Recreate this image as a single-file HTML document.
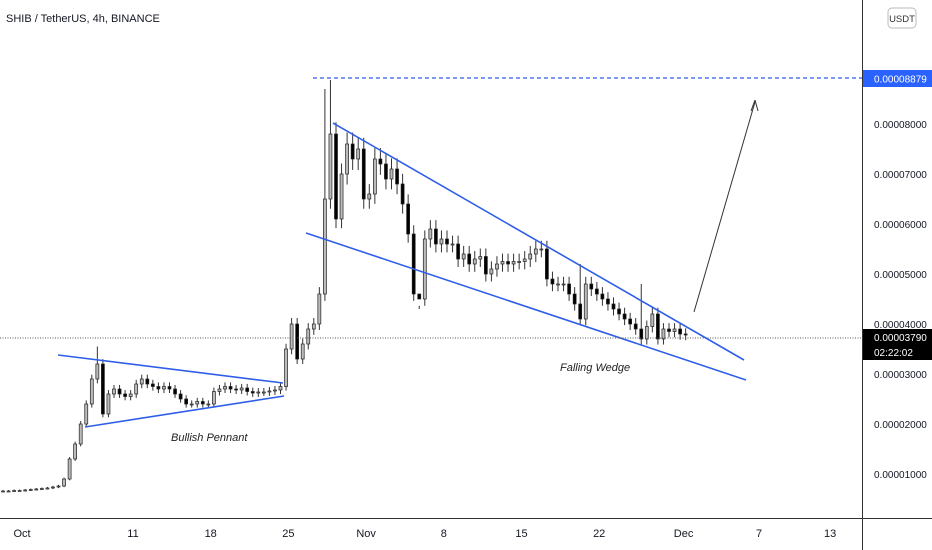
<!DOCTYPE html>
<html><head><meta charset="utf-8">
<style>
html,body{margin:0;padding:0;background:#fff;}
svg{display:block;font-family:"Liberation Sans",sans-serif;}
</style></head>
<body>
<svg id="chart" width="932" height="550" viewBox="0 0 932 550" xmlns="http://www.w3.org/2000/svg">
<rect width="932" height="550" fill="#fff"/>
<g id="candles"></g>
<line x1="58" y1="355" x2="283" y2="383" stroke="#2f5fe8" stroke-width="1.6"/>
<line x1="85" y1="427" x2="284" y2="396" stroke="#2f5fe8" stroke-width="1.6"/>
<line x1="333" y1="123" x2="744" y2="360" stroke="#2f5fe8" stroke-width="1.6"/>
<line x1="306" y1="233" x2="746" y2="380" stroke="#2f5fe8" stroke-width="1.6"/>
<line x1="313" y1="78" x2="862" y2="78" stroke="#2f5fe8" stroke-width="1.2" stroke-dasharray="4,3"/>
<line x1="0" y1="338" x2="862" y2="338" stroke="#555" stroke-width="1" stroke-dasharray="1,1.5"/>
<g>
<line x1="694" y1="312" x2="755" y2="102" stroke="#333" stroke-width="1"/>
<path d="M755 100 L751 111 M755 100 L758 111" stroke="#333" stroke-width="1" fill="none"/>
</g>
<text x="171" y="441" font-size="11" font-style="italic" fill="#222">Bullish Pennant</text>
<text x="560" y="371" font-size="11" font-style="italic" fill="#222">Falling Wedge</text>
<text x="6" y="22" font-size="11" fill="#131722">SHIB / TetherUS, 4h, BINANCE</text>
<line x1="862.5" y1="0" x2="862.5" y2="550" stroke="#333" stroke-width="1"/>
<line x1="0" y1="518.5" x2="932" y2="518.5" stroke="#333" stroke-width="1"/>
<g id="yticks"></g>
<g id="xticks"></g>
<g>
<rect x="863" y="70" width="69" height="17" fill="#2962ff"/>
<text x="874" y="82.5" font-size="10" fill="#fff">0.00008879</text>
</g>
<g>
<rect x="863" y="329" width="69" height="31" fill="#000"/>
<text x="874" y="341" font-size="10" fill="#fff">0.00003790</text>
<text x="874" y="356" font-size="10" fill="#fff">02:22:02</text>
</g>
<g>
<rect x="888" y="8" width="28" height="20" rx="4" fill="#fff" stroke="#bbb"/>
<text x="902" y="22" font-size="9.5" fill="#333" text-anchor="middle">USDT</text>
</g>
</svg>
<script>
const closes = [0.66,0.66,0.67,0.67,0.68,0.69,0.70,0.71,0.72,0.74,0.76,
0.9,1.3,1.6,2.0,2.4,2.9,3.2,2.2,2.6,2.7,2.6,2.55,2.6,2.8,2.9,2.8,2.75,2.7,2.75,2.7,2.6,2.5,2.4,2.4,2.45,2.4,2.4,2.65,2.7,2.75,2.7,2.68,2.72,2.65,2.62,2.64,2.64,2.66,2.68,2.75,
3.5,4.0,3.3,3.6,3.9,4.0,4.6,6.5,7.8,6.1,7.0,7.6,7.3,7.5,6.5,6.6,7.3,7.2,6.9,7.1,6.8,6.4,5.8,4.6,4.5,5.7,5.9,5.6,5.7,5.6,5.6,5.3,5.4,5.2,5.3,5.35,5.0,5.1,5.2,5.25,5.2,5.25,5.25,5.3,5.4,5.5,5.5,4.9,4.8,4.8,4.8,4.6,4.4,4.1,4.8,4.7,4.6,4.5,4.4,4.3,4.2,4.1,4.0,3.9,3.7,3.95,4.2,3.7,3.9,3.85,3.9,3.8,3.79];
const spikeIdx = [17,59,58,75,104,115];
const spikeHigh = [3.55,8.88,8.7,4.3,5.2,4.8];
const yTickVals = [1,2,3,4,5,6,7,8,9];
const yTickLabels = ["0.00001000","0.00002000","0.00003000","0.00004000","0.00005000","0.00006000","0.00007000","0.00008000","0.00009000"];
const xTickDays = [0,10,17,24,31,38,45,52,59.6,66.4,72.8];
const xTickLabels = ["Oct","11","18","25","Nov","8","15","22","Dec","7","13"];

const NS="http://www.w3.org/2000/svg";
function yScale(v){return 474-(v-1)*50;}
function xDay(d){return 22+d*11.1;}
function xCandle(i){return 3+i*5.55;}
function mk(tag,attrs,parent){const e=document.createElementNS(NS,tag);for(const k in attrs)e.setAttribute(k,attrs[k]);parent.appendChild(e);return e;}

const cg=document.getElementById('candles');
for(let i=0;i<closes.length;i++){
  const c=closes[i], o=i>0?closes[i-1]:c*0.99;
  let hi=Math.max(o,c)*1.03, lo=Math.min(o,c)*0.97;
  const s=spikeIdx.indexOf(i); if(s>=0) hi=spikeHigh[s];
  const x=xCandle(i);
  const w=mk('line',{x1:x,x2:x,y1:yScale(hi),y2:yScale(lo),stroke:'#333','stroke-width':1},cg);
  
  
  const top=yScale(Math.max(o,c)), h=Math.max(1,Math.abs(yScale(o)-yScale(c)));
  const up=c>=o;
  const b=mk('rect',{x:x-1.5,y:top,width:3,height:h,fill:up?'#bbb':'#000',stroke:'#222','stroke-width':0.7},cg);
  
  
}
const yg=document.getElementById('yticks');
for(let i=0;i<yTickVals.length;i++){
  const t=mk('text',{x:874,y:yScale(yTickVals[i])+4,'font-size':10,fill:'#131722'},yg);
  t.textContent=yTickLabels[i];
  
  
}
const xg=document.getElementById('xticks');
for(let i=0;i<xTickDays.length;i++){
  const t=mk('text',{x:xDay(xTickDays[i]),y:537,'font-size':11,fill:'#131722','text-anchor':'middle'},xg);
  t.textContent=xTickLabels[i];
  
  
}
</script>
</body></html>
